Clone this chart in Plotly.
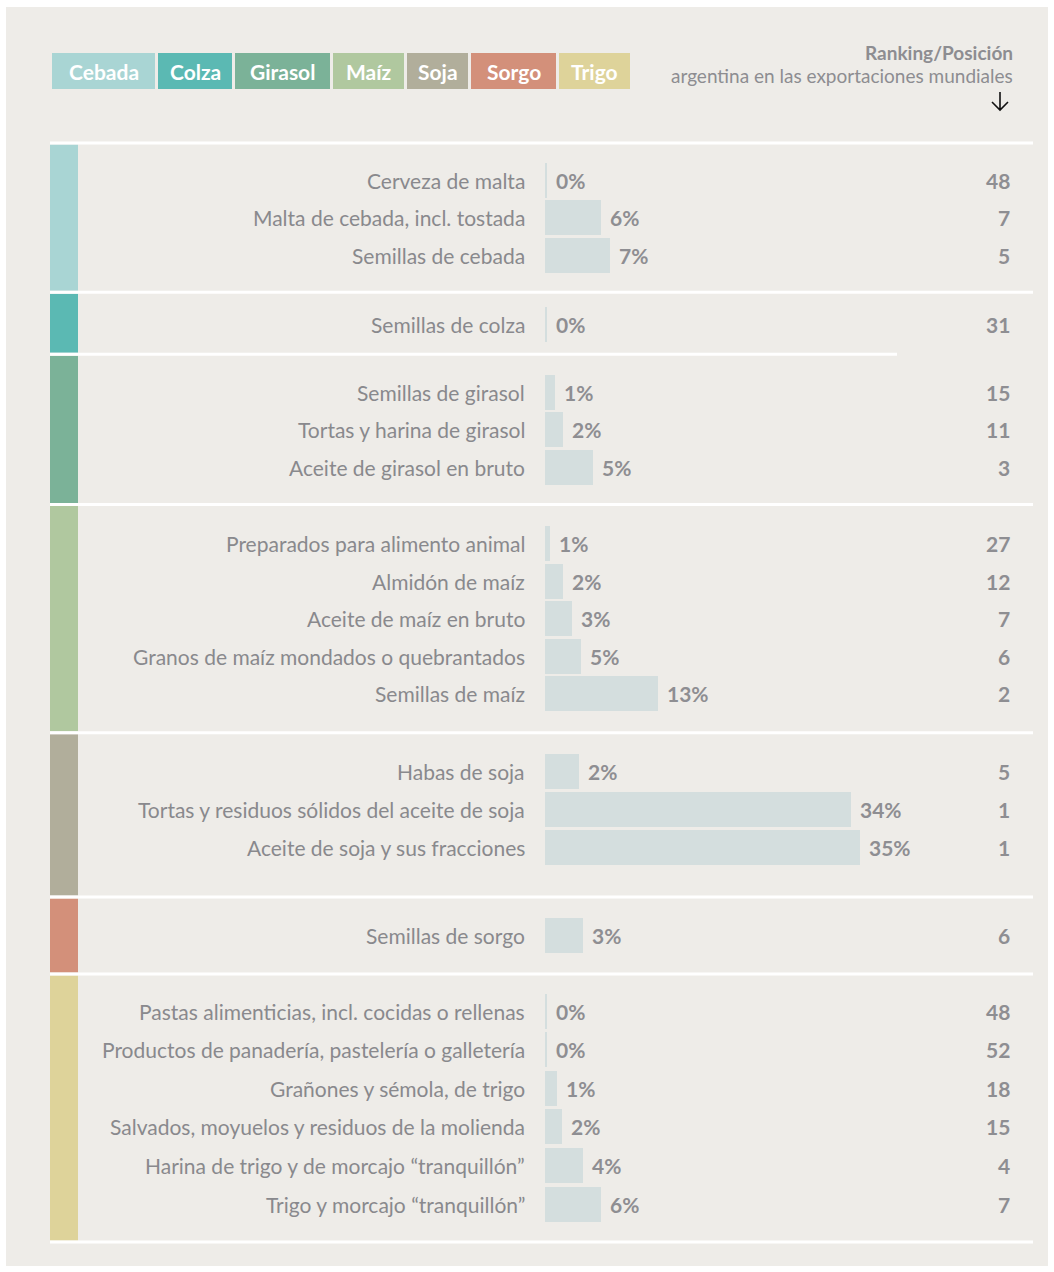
import plotly.graph_objects as go

# ---------------- data ----------------
groups = ["Cebada", "Colza", "Girasol", "Maíz", "Soja", "Sorgo", "Trigo"]
group_colors = ["#a9d5d4", "#5bb9b3", "#7bb298", "#b0c89f", "#b1ae9b", "#d3907a", "#ded39a"]

products = [
    "Cerveza de malta", "Malta de cebada, incl. tostada", "Semillas de cebada",
    "Semillas de colza",
    "Semillas de girasol", "Tortas y harina de girasol", "Aceite de girasol en bruto",
    "Preparados para alimento animal", "Almidón de maíz", "Aceite de maíz en bruto",
    "Granos de maíz mondados o quebrantados", "Semillas de maíz",
    "Habas de soja", "Tortas y residuos sólidos del aceite de soja", "Aceite de soja y sus fracciones",
    "Semillas de sorgo",
    "Pastas alimenticias, incl. cocidas o rellenas", "Productos de panadería, pastelería o galletería",
    "Grañones y sémola, de trigo", "Salvados, moyuelos y residuos de la molienda",
    "Harina de trigo y de morcajo “tranquillón”", "Trigo y morcajo “tranquillón”",
]
product_group = [
    "Cebada", "Cebada", "Cebada",
    "Colza",
    "Girasol", "Girasol", "Girasol",
    "Maíz", "Maíz", "Maíz", "Maíz", "Maíz",
    "Soja", "Soja", "Soja",
    "Sorgo",
    "Trigo", "Trigo", "Trigo", "Trigo", "Trigo", "Trigo",
]
share = [0.2, 6.2, 7.2,
         0.2,
         1.1, 2.0, 5.3,
         0.6, 2.0, 3.0, 4.0, 12.6,
         3.8, 34.0, 35.0,
         4.2,
         0.2, 0.2, 1.3, 1.9, 4.2, 6.2]
share_label = ["0%", "6%", "7%",
               "0%",
               "1%", "2%", "5%",
               "1%", "2%", "3%", "5%", "13%",
               "2%", "34%", "35%",
               "3%",
               "0%", "0%", "1%", "2%", "4%", "6%"]
ranking = [48, 7, 5,
           31,
           15, 11, 3,
           27, 12, 7, 6, 2,
           5, 1, 1,
           6,
           48, 52, 18, 15, 4, 7]

# ---------------- layout settings ----------------
W, H = 1054, 1272
BG = "#eeece8"
BAR = "#d4dede"
TXT = "#89898d"
NUM = "#8e8e92"
FONT = "Lato"

ROW_STEP = [37.6, 37.6, 37.6, 37.6, 37.6, 37.6, 38.6]   # vertical distance between rows per group (px)
BAR_THICK = 35           # bar thickness (px)
PAD_TOP = [37, 32, 38, 39, 39, 38, 37]      # padding above first row of each group (px)
PAD_BOTTOM = [37, 30, 37, 39, 50, 39, 38]   # padding below last row of each group (px)
TOP_PX = 143
BAR_LEFT_PX, PX_PER_PCT = 545, 9.0
X_RIGHT_PX = 1033


def px(x):
    return x / W


def py(y):
    return 1 - y / H


# row positions in pixel units (y axis maps 1:1 to pixels)
row_pos = []
group_bounds = []
cur = TOP_PX
for k, g in enumerate(groups):
    n = product_group.count(g)
    start = cur
    y = cur + PAD_TOP[k]
    for i in range(n):
        row_pos.append(y + i * ROW_STEP[k])
    cur = y + (n - 1) * ROW_STEP[k] + PAD_BOTTOM[k]
    group_bounds.append((start, cur))

fig = go.Figure()
fig.add_trace(go.Bar(
    x=share, y=row_pos, orientation="h",
    marker=dict(color=BAR, line=dict(width=0)),
    width=BAR_THICK, hoverinfo="skip", showlegend=False,
))

shapes = []
annotations = []

# outer background panel
shapes.append(dict(type="rect", xref="paper", yref="paper",
                   x0=px(6), x1=px(1048), y0=py(1266), y1=py(7),
                   fillcolor=BG, line=dict(width=0), layer="below"))

# legend boxes
legend_x = [(52, 155), (158, 232), (235, 330), (333, 404), (407, 468), (471, 556), (559, 630)]
for g, col, (x0, x1) in zip(groups, group_colors, legend_x):
    shapes.append(dict(type="rect", xref="paper", yref="paper",
                       x0=px(x0), x1=px(x1), y0=py(89), y1=py(53),
                       fillcolor=col, line=dict(width=0)))
    annotations.append(dict(xref="paper", yref="paper", x=px((x0 + x1) / 2), y=py(71),
                            text=f"<b>{g}</b>", showarrow=False, xanchor="center", yanchor="middle",
                            font=dict(family=FONT, size=21, color="white")))

# ranking header
annotations.append(dict(xref="paper", yref="paper", x=px(1015), y=py(53),
                        text="<b>Ranking/Posición</b>", showarrow=False,
                        xanchor="right", yanchor="middle",
                        font=dict(family=FONT, size=19, color="#8d8d91")))
annotations.append(dict(xref="paper", yref="paper", x=px(1015), y=py(76),
                        text="argentina en las exportaciones mundiales", showarrow=False,
                        xanchor="right", yanchor="middle",
                        font=dict(family=FONT, size=19, color="#8d8d91")))
# arrow glyph drawn as thin path
shapes.append(dict(type="path", xref="paper", yref="paper",
                   path=(f"M {px(1000)} {py(92)} L {px(1000)} {py(110)} "
                         f"M {px(992)} {py(102)} L {px(1000)} {py(110)} L {px(1008)} {py(102)}"),
                   line=dict(color="#111111", width=1.6)))

# group strips and separators
for (b0, b1), col in zip(group_bounds, group_colors):
    shapes.append(dict(type="rect", xref="paper", yref="y",
                       x0=px(50), x1=px(78), y0=b0 + 1.5, y1=b1 - 1.5,
                       fillcolor=col, line=dict(width=0)))
for k, (b0, b1) in enumerate(group_bounds):
    x_end = 897 if k == 2 else X_RIGHT_PX
    shapes.append(dict(type="line", xref="paper", yref="y",
                       x0=px(50), x1=px(x_end), y0=b0, y1=b0,
                       line=dict(color="white", width=3)))
shapes.append(dict(type="line", xref="paper", yref="y",
                   x0=px(50), x1=px(X_RIGHT_PX), y0=group_bounds[-1][1], y1=group_bounds[-1][1],
                   line=dict(color="white", width=3)))

# row texts
for name, v, lab, rk, yv in zip(products, share, share_label, ranking, row_pos):
    annotations.append(dict(xref="paper", yref="y", x=px(527), y=yv,
                            text=name, showarrow=False, xanchor="right", yanchor="middle",
                            font=dict(family=FONT, size=21, color=TXT)))
    annotations.append(dict(xref="x", yref="y", x=v, y=yv, xshift=7,
                            text=f"<b>{lab}</b>", showarrow=False, xanchor="left", yanchor="middle",
                            font=dict(family=FONT, size=21, color=NUM)))
    annotations.append(dict(xref="paper", yref="y", x=px(1012), y=yv,
                            text=f"<b>{rk}</b>", showarrow=False, xanchor="right", yanchor="middle",
                            font=dict(family=FONT, size=21, color=NUM)))

x_span = (X_RIGHT_PX - BAR_LEFT_PX) / PX_PER_PCT
fig.update_layout(
    width=W, height=H,
    margin=dict(l=0, r=0, t=0, b=0),
    paper_bgcolor="white", plot_bgcolor="rgba(0,0,0,0)",
    bargap=0,
    xaxis=dict(domain=[px(BAR_LEFT_PX), px(X_RIGHT_PX)], range=[0, x_span],
               visible=False, fixedrange=True),
    yaxis=dict(domain=[0, 1], range=[H, 0],
               visible=False, fixedrange=True),
    shapes=shapes,
    annotations=annotations,
    font=dict(family=FONT),
)

fig.write_html("out.html", config={"displayModeBar": False},
               post_script="document.body.style.margin='0px';")
